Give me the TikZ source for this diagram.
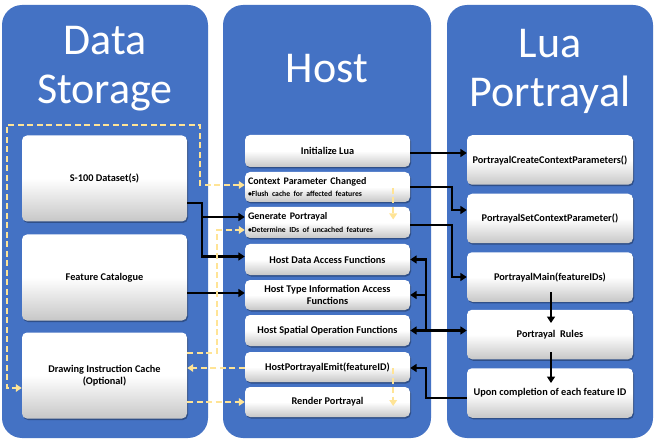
\documentclass[tikz,border=0pt]{standalone}
\usepackage{fontspec}
\setmainfont{Carlito}
\usetikzlibrary{arrows.meta,shadows}
\definecolor{panelblue}{RGB}{68,114,196}
\definecolor{dashyellow}{RGB}{255,228,150}
\begin{document}
\begin{tikzpicture}[x=1pt,y=-1pt,
  panelbox/.style={fill=panelblue,rounded corners=20pt,inner sep=0pt,minimum width=206pt,minimum height=433pt},
  title/.style={text=white,font=\fontsize{44}{48}\selectfont,inner sep=0pt,anchor=base},
  wbox/.style={rounded corners=5pt,inner sep=1pt,top color=white,bottom color=black!22,middle color=white,
     drop shadow={shadow xshift=1pt,shadow yshift=-1.5pt,opacity=.3,fill=black},
     font=\bfseries\fontsize{10.3}{11.5}\selectfont,align=center},
  dsbox/.style={wbox,minimum width=165pt,minimum height=86pt},
  hbox/.style={wbox,minimum width=165pt,minimum height=31pt},
  lbox/.style={wbox,minimum width=166pt,minimum height=49.5pt},
  blk/.style={line width=2.4pt,black,-{Triangle[length=6.5pt,width=8pt]}},
  blkboth/.style={line width=2.4pt,black,{Triangle[length=6.5pt,width=8pt]}-{Triangle[length=6.5pt,width=8pt]}},
  ydash/.style={line width=2.2pt,dashyellow,dash pattern=on 6pt off 3.5pt,-{Triangle[length=6pt,width=7.5pt]}},
  ydashboth/.style={line width=2.2pt,dashyellow,dash pattern=on 6pt off 3.5pt,{Triangle[length=6pt,width=7.5pt]}-{Triangle[length=6pt,width=7.5pt]}}
]
\useasboundingbox (0,0) rectangle (662,441);
\fill[white] (0,0) rectangle (662,441);

% panels
\node[panelbox] (pds) at (105,221.5) {};
\node[panelbox,minimum width=208pt] (phost) at (327,221.5) {};
\node[panelbox] (plua) at (550,221.5) {};

% titles
\node[title] (tds1) at (105,55) {Data};
\node[title] (tds2) at (105,104) {Storage};
\node[title] (thost) at (327,83) {Host};
\node[title] (tlua1) at (550,58) {Lua};
\node[title] (tlua2) at (550,107) {Portrayal};

% Data storage boxes
\node[dsbox] (ds1) at (104.5,178.5) {S-100 Dataset(s)};
\node[dsbox] (ds2) at (104.5,277.5) {Feature Catalogue};
\node[dsbox] (ds3) at (104.5,375.5) {Drawing Instruction Cache\\(Optional)};

% Host boxes
\node[hbox,minimum height=32pt] (h1) at (327.5,151) {Initialize Lua};
\node[hbox,minimum height=30pt,align=left,text width=159pt] (h2) at (327.5,187)
  {{\fontsize{10}{11}\selectfont Context Parameter Changed}\\[1pt]{\fontsize{7.7}{8.5}\selectfont \textbullet Flush cache for affected features}};
\node[hbox,align=left,text width=159pt] (h3) at (327.5,222.5)
  {{\fontsize{10}{11}\selectfont Generate Portrayal}\\[1pt]{\fontsize{7.7}{8.5}\selectfont \textbullet Determine IDs of uncached features}};
\node[hbox] (h4) at (327.5,259.5) {Host Data Access Functions};
\node[hbox,minimum height=30pt] (h5) at (327.5,295) {Host Type Information Access\\Functions};
\node[hbox] (h6) at (327.5,330.5) {Host Spatial Operation Functions};
\node[hbox,minimum height=30pt] (h7) at (327.5,367) {HostPortrayalEmit(featureID)};
\node[hbox,minimum height=30pt] (h8) at (327.5,402) {Render Portrayal};

% Lua boxes
\node[lbox] (l1) at (550,160) {PortrayalCreateContextParameters()};
\node[lbox] (l2) at (550,218.5) {PortrayalSetContextParameter()};
\node[lbox] (l3) at (550,277) {PortrayalMain(featureIDs)};
\node[lbox] (l4) at (550,334.5) {Portrayal\ \ Rules};
\node[lbox] (l5) at (550,393) {Upon completion of each feature ID};

% black connectors Host -> Lua
\draw[blk] ([yshift=-2pt]h1.east) -- ([yshift=-2pt]h1.east -| l1.west);
\draw[blk] (h2.east) -- ++(42,0) |- ([yshift=8.5pt]l2.west);
\draw[blk] ([yshift=-2.5pt]h3.east) -- ++(42,0) |- (l3.west);
\coordinate (j) at ([xshift=16pt]h6.east);
\draw[blkboth] (h6.east) -- (h6.east -| l4.west);
\draw[blk] (j) |- (h4.east);
\draw[blk] (j) |- (h5.east);
\draw[blk] ([yshift=-5pt]l5.west) -| ([xshift=16pt,yshift=-1pt]h7.east) -- ([yshift=-1pt]h7.east);

% inner Lua arrows
\draw[blk] ([xshift=1pt,yshift=-15pt]l3.center) -- ([xshift=1pt,yshift=11.5pt]l4.center);
\draw[blk] ([xshift=1pt,yshift=-17.5pt]l4.center) -- ([xshift=1pt,yshift=10pt]l5.center);

% black connectors Data Storage -> Host
\draw[blk] ([yshift=-24.5pt]ds1.east) -- ++(15,0) |- ([yshift=3pt]h4.west);
\draw[blk] ([xshift=15pt,yshift=-24.5pt]ds1.east) |- ([yshift=5.5pt]h3.west);
\draw[blk] ([yshift=2pt]h5.west -| ds2.east) -- ([yshift=2pt]h5.west);

% yellow dashed connectors
\draw[ydashboth] ([yshift=2pt]h2.west) -- ++(-45,0) |- (7,125) |- ([yshift=-12.5pt]ds3.west);
\draw[ydash] ([yshift=22.5pt]ds3.east) -| ([xshift=-28pt,yshift=-7.5pt]h3.west) -- ([yshift=-7.5pt]h3.west);
\draw[ydash] ([yshift=-1pt]h7.west) -- ([yshift=-1pt]h7.west -| ds3.east);
\draw[ydash] (h8.west -| ds3.east) -- (h8.west);
\draw[ydash] ([xshift=-17pt,yshift=-1pt]h2.east) -- ([xshift=-17pt,yshift=3pt]h3.east);
\draw[ydash] ([xshift=-17pt,yshift=-1pt]h7.east) -- ([xshift=-17pt,yshift=-4pt]h8.east);
\end{tikzpicture}
\end{document}
